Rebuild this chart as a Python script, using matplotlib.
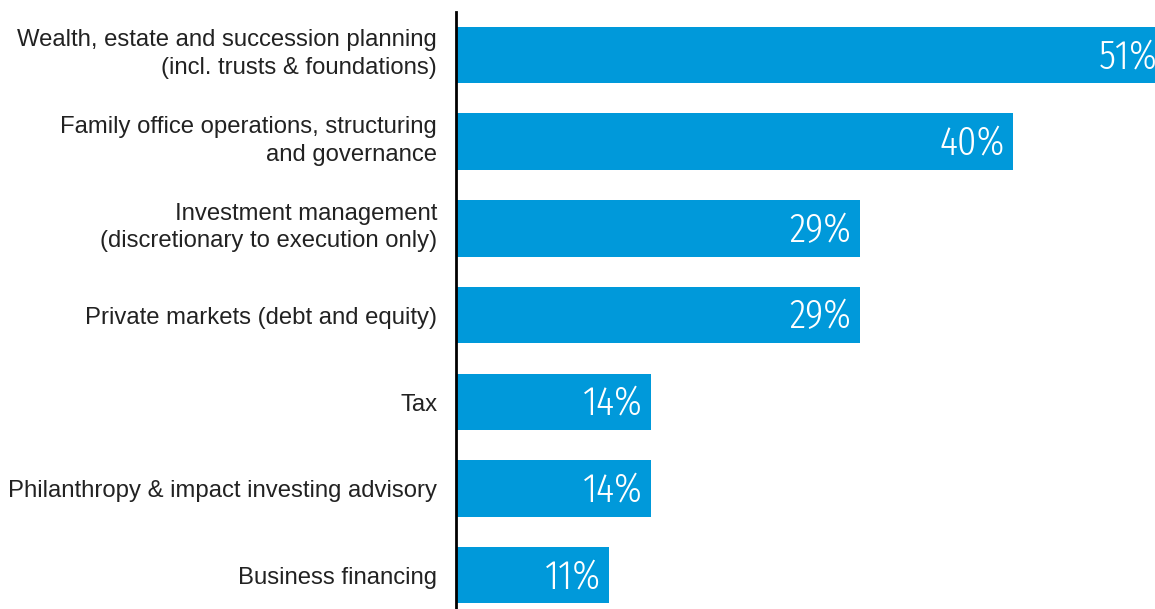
import matplotlib
matplotlib.use("Agg")
import matplotlib.pyplot as plt
from matplotlib import font_manager
from matplotlib.font_manager import FontProperties

# categories and shares (%)
categories = [
    "Wealth, estate and succession planning\n(incl. trusts & foundations)",
    "Family office operations, structuring\nand governance",
    "Investment management\n(discretionary to execution only)",
    "Private markets (debt and equity)",
    "Tax",
    "Philanthropy & impact investing advisory",
    "Business financing",
]
values = [51, 40, 29, 29, 14, 14, 11]
value_labels = ["51%", "40%", "29%", "29%", "14%", "14%", "11%"]

bar_color = "#0099DA"

# find a light condensed face for the in-bar numbers
light_narrow = [f for f in font_manager.fontManager.ttflist
                if ("Condensed" in f.name or "Narrow" in f.name)
                and f.style == "normal" and f.weight in (200, 300, "light", "extra light")]
prefs = ["Fira Sans Extra Condensed", "Roboto Condensed", "Barlow Condensed",
         "Sofia Sans Extra Condensed", "Fira Sans Condensed", "Saira Extra Condensed",
         "Encode Sans Condensed", "Open Sans Condensed"]
num_font = None
for p in prefs:
    hit = [f for f in light_narrow if f.name == p]
    if hit:
        num_font = FontProperties(fname=hit[0].fname, size=30)
        break
if num_font is None and light_narrow:
    num_font = FontProperties(fname=light_narrow[0].fname, size=30)
if num_font is None:
    num_font = FontProperties(family="DejaVu Sans", weight="light", size=30)

fig = plt.figure(figsize=(11.55, 6.09), dpi=100)
ax = fig.add_axes([456 / 1155, 0, 1 - 456 / 1155, 597 / 609])

ypos = list(range(len(categories)))
ax.barh(ypos, values, height=0.65, color=bar_color, left=0)

for y, v, lab in zip(ypos, values, value_labels):
    ax.text(v - 0.6, y + 0.02, lab, ha="right", va="center", color="white",
            fontproperties=num_font, clip_on=False)

# category labels
for y, cat in zip(ypos, categories):
    off = -0.01 if "\n" in cat else 0.035
    ax.text(-1.35, y + off, cat, ha="right", va="center", fontsize=17.2,
            color="#222222", family="Liberation Sans", linespacing=1.32)

ax.set_xlim(0, 699 / 13.93)
ax.set_ylim(6.392, -0.496)
ax.set_xticks([])
ax.set_yticks([])

for s in ["top", "right", "bottom"]:
    ax.spines[s].set_visible(False)
ax.spines["left"].set_linewidth(2)
ax.spines["left"].set_color("black")

fig.savefig("out.png", dpi=100)
